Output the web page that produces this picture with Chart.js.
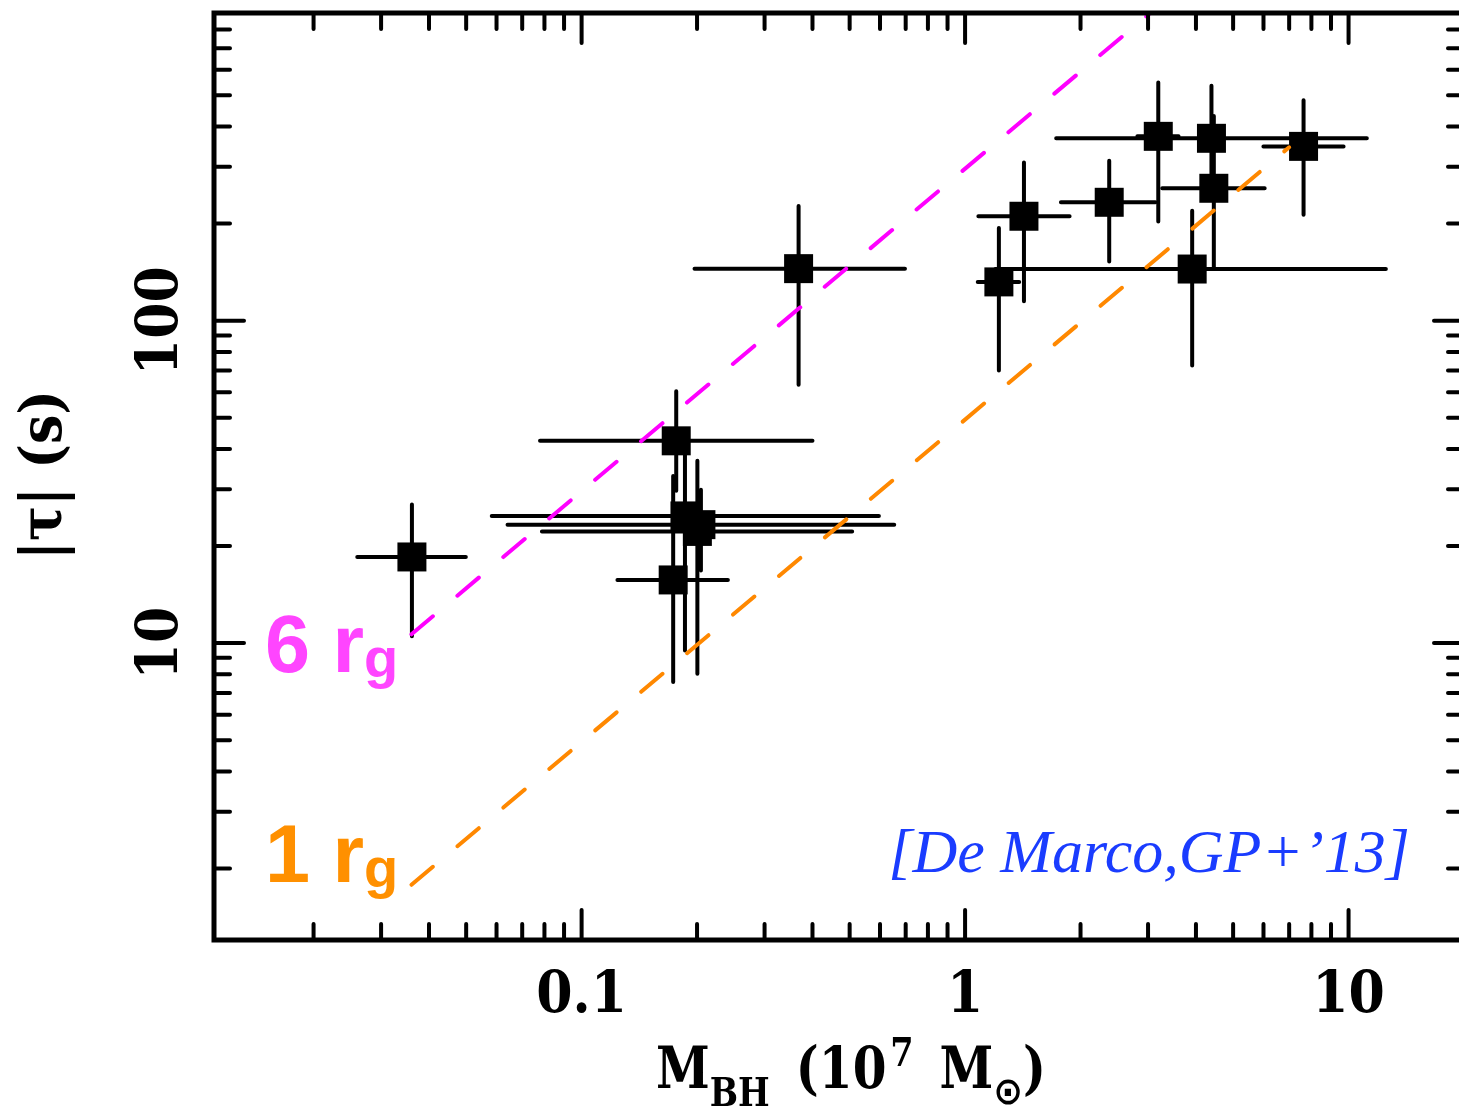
<!DOCTYPE html>
<html>
<head>
<meta charset="utf-8">
<title>Lag vs black hole mass</title>
<script src="https://cdn.jsdelivr.net/npm/chart.js@4.4.1/dist/chart.umd.min.js"></script>
<style>
  html, body { margin: 0; padding: 0; background: #fff; overflow: hidden; }
</style>
</head>
<body>
<canvas id="lagChart" width="1466" height="1113"></canvas>
<script>
// black hole mass, units of 1e7 Msun, with lower / upper bounds
const mass     = [0.0361, 0.368, 0.1765, 0.186, 0.2047, 0.2004, 0.1733, 1.225, 1.424, 2.376, 3.19, 4.39, 4.453, 3.91, 7.632];
const massLow  = [0.0260, 0.197, 0.0779, 0.0583, 0.0641, 0.0788, 0.124, 1.079, 1.083, 1.778, 2.814, 1.728, 3.266, 1.20, 5.997];
const massHigh = [0.0499, 0.697, 0.400, 0.596, 0.6535, 0.5076, 0.2407, 1.384, 1.873, 3.136, 3.603, 11.16, 6.043, 12.51, 9.705];

// |tau| in seconds, with lower / upper bounds
const lag      = [18.5, 145, 42.4, 24.8, 23.3, 22.2, 15.7, 131.9, 210.8, 232.9, 373, 367.8, 257.4, 144.6, 347.2];
const lagLow   = [10.5, 63.3, 29.7, 9.49, 16.8, 8.04, 7.57, 70.0, 114.8, 152.7, 203.1, 252.8, 144.9, 72.6, 213.1];
const lagHigh  = [26.9, 227, 60.4, 39.5, 29.9, 36.8, 33.0, 193.8, 309.5, 313.3, 547.5, 534.9, 431, 219.2, 483];

// light crossing time at 6 r_g and 1 r_g
const sixRgMass = [0.036, 3.05];
const sixRgLag  = [10.65, 903];
const oneRgMass = [0.036, 7.0];
const oneRgLag  = [1.78, 345];

const xTickValues = [0.1, 1, 10];
const xTickLabels = ['0.1', '1', '10'];
const yTickValues = [10, 100];
const yTickLabels = ['10', '100'];

const axisFont = (size) => 'bold ' + size + 'px "DejaVu Serif Condensed", "DejaVu Serif", serif';

function logTicks(min, max) {
  const out = [];
  for (let e = Math.floor(Math.log10(min)); e <= Math.ceil(Math.log10(max)); e++) {
    for (let k = 1; k < 10; k++) {
      const v = k * Math.pow(10, e);
      if (v >= min * 0.999 && v <= max * 1.001) out.push({ v, major: k === 1 });
    }
  }
  return out;
}

// draws text pieces one after another, squeezed into [x0, x1]
function drawPieces(ctx, pieces, x0, x1) {
  let total = 0;
  pieces.forEach(p => {
    ctx.font = p.font;
    p.w = ctx.measureText(p.text).width;
    total += p.w + (p.gap || 0);
  });
  ctx.save();
  ctx.translate(x0, 0);
  ctx.scale((x1 - x0) / total, 1);
  let cx = 0;
  pieces.forEach(p => {
    ctx.font = p.font;
    ctx.fillText(p.text, cx, p.y);
    cx += p.w + (p.gap || 0);
  });
  ctx.restore();
}

const errorBars = {
  id: 'errorBars',
  beforeDatasetsDraw(chart) {
    const { ctx, scales: { x, y } } = chart;
    ctx.save();
    ctx.strokeStyle = '#000';
    ctx.lineWidth = 4;
    ctx.lineCap = 'round';
    mass.forEach((m, i) => {
      const px = x.getPixelForValue(m);
      const py = y.getPixelForValue(lag[i]);
      ctx.beginPath();
      ctx.moveTo(x.getPixelForValue(massLow[i]), py);
      ctx.lineTo(x.getPixelForValue(massHigh[i]), py);
      ctx.moveTo(px, y.getPixelForValue(lagLow[i]));
      ctx.lineTo(px, y.getPixelForValue(lagHigh[i]));
      ctx.stroke();
    });
    ctx.restore();
  }
};

const frame = {
  id: 'frame',
  afterDraw(chart) {
    const { ctx, chartArea: { left, right, top, bottom }, scales: { x, y } } = chart;
    ctx.save();

    // box
    ctx.strokeStyle = '#000';
    ctx.lineWidth = 5;
    ctx.strokeRect(left, top, right - left, bottom - top);

    // inward ticks on all four sides
    ctx.lineWidth = 4;
    ctx.lineCap = 'round';
    ctx.beginPath();
    logTicks(x.min, x.max).forEach(t => {
      const px = x.getPixelForValue(t.v);
      const len = t.major ? 30 : 16;
      ctx.moveTo(px, bottom); ctx.lineTo(px, bottom - len);
      ctx.moveTo(px, top); ctx.lineTo(px, top + len);
    });
    logTicks(y.min, y.max).forEach(t => {
      const py = y.getPixelForValue(t.v);
      const len = t.major ? 30 : 16;
      ctx.moveTo(left, py); ctx.lineTo(left + len, py);
      ctx.moveTo(right, py); ctx.lineTo(right - len, py);
    });
    ctx.stroke();

    // tick labels
    ctx.fillStyle = '#000';
    ctx.font = axisFont(58);
    ctx.textAlign = 'center';
    ctx.textBaseline = 'alphabetic';
    xTickValues.forEach((v, i) => {
      ctx.fillText(xTickLabels[i], x.getPixelForValue(v), 1012);
    });
    yTickValues.forEach((v, i) => {
      ctx.save();
      ctx.translate(177, y.getPixelForValue(v));
      ctx.rotate(-Math.PI / 2);
      ctx.fillText(yTickLabels[i], 0, 0);
      ctx.restore();
    });

    // y title
    ctx.save();
    ctx.translate(61, 475);
    ctx.rotate(-Math.PI / 2);
    ctx.font = axisFont(58);
    ctx.fillText('|τ| (s)', 0, 0);
    ctx.restore();

    // x title: M_BH (10^7 M_sun)
    ctx.textAlign = 'left';
    drawPieces(ctx, [
      { text: 'M', font: axisFont(58), y: 1088 },
      { text: 'BH', font: axisFont(40), y: 1106, gap: 28 },
      { text: '(10', font: axisFont(58), y: 1088, gap: 4 },
      { text: '7', font: axisFont(40), y: 1066, gap: 28 },
      { text: 'M', font: axisFont(58), y: 1088 },
      { text: '⊙', font: 'bold 38px "DejaVu Sans", sans-serif', y: 1104 },
      { text: ')', font: axisFont(58), y: 1088 }
    ], 656, 1046);

    // line labels
    const bigFont = 'bold 81px "Liberation Sans", Arial, sans-serif';
    const subFont = 'bold 56px "Liberation Sans", Arial, sans-serif';
    [['6', '#ff45ff', 672], ['1', '#ff9000', 882]].forEach(([n, color, base]) => {
      ctx.fillStyle = color;
      ctx.font = bigFont;
      const w = ctx.measureText(n + ' r').width;
      ctx.fillText(n + ' r', 265, base);
      ctx.font = subFont;
      ctx.fillText('g', 265 + w, base + 5);
    });

    // citation
    ctx.fillStyle = '#1a3cff';
    ctx.font = 'italic 62px "Liberation Serif", "Times New Roman", serif';
    ctx.textAlign = 'right';
    ctx.fillText('[De Marco,GP+’13]', 1410, 872);

    ctx.restore();
  }
};

new Chart(document.getElementById('lagChart'), {
  type: 'scatter',
  data: {
    datasets: [
      {
        label: '6 rg',
        data: sixRgMass.map((m, i) => ({ x: m, y: sixRgLag[i] })),
        showLine: true,
        borderColor: '#ff00ff',
        borderWidth: 4,
        borderDash: [28, 32],
        borderCapStyle: 'round',
        pointRadius: 0,
        order: 0
      },
      {
        label: '1 rg',
        data: oneRgMass.map((m, i) => ({ x: m, y: oneRgLag[i] })),
        showLine: true,
        borderColor: '#ff8800',
        borderWidth: 4,
        borderDash: [28, 32],
        borderCapStyle: 'round',
        pointRadius: 0,
        order: 0
      },
      {
        label: 'sources',
        data: mass.map((m, i) => ({ x: m, y: lag[i] })),
        pointStyle: 'rect',
        pointRadius: 20.5,
        backgroundColor: '#000',
        borderWidth: 0,
        order: 1
      }
    ]
  },
  options: {
    responsive: false,
    animation: false,
    events: [],
    layout: { autoPadding: false, padding: { left: 214, right: 2, top: 13, bottom: 173 } },
    scales: {
      x: { type: 'logarithmic', min: 0.011, max: 20, display: false },
      y: { type: 'logarithmic', min: 1.2, max: 900, display: false }
    },
    plugins: {
      legend: { display: false },
      tooltip: { enabled: false }
    }
  },
  plugins: [errorBars, frame]
});
</script>
</body>
</html>
